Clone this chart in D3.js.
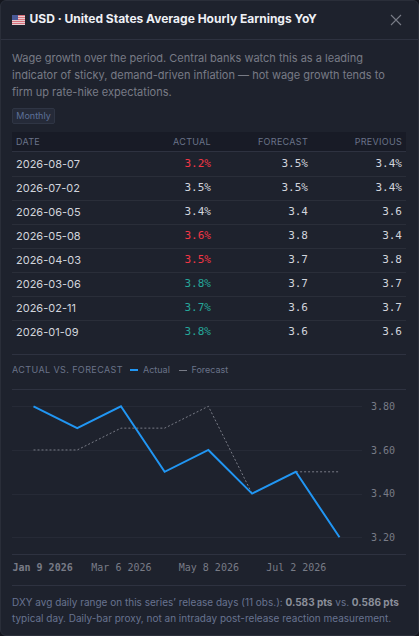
<!DOCTYPE html>
<html>
<head>
<meta charset="utf-8">
<script src="https://cdn.jsdelivr.net/npm/d3@7/dist/d3.min.js"></script>
<style>
html, body { margin: 0; padding: 0; background: #14161e; }
#panel { position: absolute; left: 0; top: 0; width: 417px; height: 634px; background: #1e222d; border: 1px solid #2a2e39; border-radius: 6px; overflow: hidden; font-family: Inter, sans-serif; }
.abs { position: absolute; white-space: nowrap; }
.rule { position: absolute; left: 11px; width: 394px; height: 1px; background: #2e3240; }
.mono { font-family: "DejaVu Sans Mono", monospace; }
#head { left: 0; top: 0; width: 417px; height: 38px; border-bottom: 1px solid #2e3240; }
#title { font-size: 12px; font-weight: 700; color: #eef0f5; line-height: 18px; }
.desc { font-size: 11px; color: #787b86; line-height: 17px; }
#tag { width: 41px; height: 14px; border: 1px solid #2f3544; border-radius: 2px; background: #252a38; color: #5d7199; font-size: 9px; line-height: 14px; text-align: center; }
#thead { left: 11px; top: 131px; width: 394px; height: 19px; background: #181b26; border-bottom: 1px solid #2e3240; }
.th { font-size: 9px; letter-spacing: .3px; color: #6a7389; line-height: 19px; }
.td { font-size: 11px; line-height: 16px; }
.date { font-size: 11px; line-height: 16px; color: #d1d4dc; }
.tr { position: absolute; left: 11px; width: 394px; height: 1px; background: #2a2e39; }
.leg { font-size: 9px; color: #6a7389; line-height: 14px; }
</style>
</head>
<body>
<div id="panel"></div>
<script>
const dates = ['2026-01-09','2026-02-11','2026-03-06','2026-04-03','2026-05-08','2026-06-05','2026-07-02','2026-08-07'];
const actual = [3.8,3.7,3.8,3.5,3.6,3.4,3.5,3.2];
const forecast = [3.6,3.6,3.7,3.7,3.8,3.4,3.5,3.5];
// table rows, newest first, as printed
const rowDates = ['2026-08-07','2026-07-02','2026-06-05','2026-05-08','2026-04-03','2026-03-06','2026-02-11','2026-01-09'];
const rowActual = ['3.2%','3.5%','3.4%','3.6%','3.5%','3.8%','3.7%','3.8%'];
const rowForecast = ['3.5%','3.5%','3.4','3.8','3.7','3.7','3.6','3.6'];
const rowPrevious = ['3.4%','3.4%','3.6','3.4','3.8','3.7','3.7','3.6'];
const rowColor = ['#f23645','#d1d4dc','#d1d4dc','#f23645','#f23645','#26a69a','#26a69a','#26a69a'];
const headers = ['DATE','ACTUAL','FORECAST','PREVIOUS'];
const yTicks = [3.2,3.4,3.6,3.8];
const xTickDates = ['2026-01-09','2026-03-06','2026-05-08','2026-07-02'];
const xTickLabels = ['Jan 9 2026','Mar 6 2026','May 8 2026','Jul 2 2026'];

const panel = d3.select('#panel');

function put(cls, text, left, top, right) {
  const el = panel.append('div').attr('class', 'abs ' + cls).text(text).style('top', top + 'px');
  if (right != null) el.style('right', right + 'px');
  else el.style('left', left + 'px');
  return el;
}

//HEADER
panel.append('div').attr('class', 'abs').attr('id', 'head');
const flag = panel.append('svg').attr('class', 'abs').style('left', '11px').style('top', '14px')
  .attr('width', 13).attr('height', 10);
d3.range(5).forEach(i => {
  flag.append('rect').attr('x', 0).attr('y', i * 2).attr('width', 13).attr('height', 1).attr('fill', '#d9707c');
  flag.append('rect').attr('x', 0).attr('y', i * 2 + 1).attr('width', 13).attr('height', 1).attr('fill', '#e6cfd2');
});
flag.append('rect').attr('width', 6).attr('height', 5).attr('fill', '#4a5a98');
put('', 'USD · United States Average Hourly Earnings YoY', 28.5, 9).attr('id', 'title');
const close = panel.append('svg').attr('class', 'abs').style('left', '389px').style('top', '13px')
  .attr('width', 12).attr('height', 12);
close.append('path').attr('d', 'M1 1L11 11M11 1L1 11').attr('stroke', '#787b86').attr('stroke-width', 1.1).attr('fill', 'none');

//DESCRIPTION
const descLines = ['Wage growth over the period. Central banks watch this as a leading',
  'indicator of sticky, demand-driven inflation — hot wage growth tends to',
  'firm up rate-hike expectations.'];
descLines.forEach((t, i) => put('desc', t, 11, 49 + i * 17));
put('', 'Monthly', 11, 107).attr('id', 'tag');

//TABLE
panel.append('div').attr('class', 'abs').attr('id', 'thead');
put('th', headers[0], 15, 131);
put('th', headers[1], 0, 131, 207);
put('th', headers[2], 0, 131, 110);
put('th', headers[3], 0, 131, 16);

rowDates.forEach((d, i) => {
  const top = 155 + i * 24;
  put('date', d, 15, top);
  put('td mono', rowActual[i], 0, top, 207).style('color', rowColor[i]);
  put('td mono', rowForecast[i], 0, top, 110).style('color', '#d1d4dc');
  put('td mono', rowPrevious[i], 0, top, 16).style('color', '#d1d4dc');
  if (i < 7) panel.append('div').attr('class', 'tr').style('top', (top + 20) + 'px');
});

panel.append('div').attr('class', 'rule').style('top', '353px');

//LEGEND
put('leg', 'ACTUAL VS. FORECAST', 11, 362).style('letter-spacing', '.4px');
panel.append('div').attr('class', 'abs').style('left', '129px').style('top', '368px').style('width', '8px').style('height', '2px').style('background', '#2196f3');
put('leg', 'Actual', 142, 362);
panel.append('div').attr('class', 'abs').style('left', '178px').style('top', '369px').style('width', '8px').style('height', '1px').style('background', '#787b86');
put('leg', 'Forecast', 190.5, 362);

//CHART
const margin = ({top: 389, left: 11}),
width = 394,
height = 165;

const svg = panel.append('svg')
  .attr('class', 'abs')
  .style('left', margin.left + 'px')
  .style('top', (margin.top - 1) + 'px')
  .attr('width', width + 20)
  .attr('height', height + 30);

const xScale = d3.scalePoint().domain(dates).range([21.5, 327.5]);
const yScale = d3.scaleLinear().domain([3.2, 3.8]).range([148.3, 17.3]);

svg.append('line').attr('x1', 0).attr('x2', width).attr('y1', .5).attr('y2', .5).attr('stroke', '#2e3240');
svg.append('line').attr('x1', 0).attr('x2', width).attr('y1', height + .5).attr('y2', height + .5).attr('stroke', '#2e3240');

const yAxis = svg.append('g')
  .attr('transform', 'translate(350,0)')
  .call(d3.axisRight(yScale).tickValues(yTicks).tickSize(0).tickPadding(9).tickFormat(d3.format('.2f')));
yAxis.select('.domain').remove();
yAxis.selectAll('text').attr('fill', '#787b86').attr('font-family', '"DejaVu Sans Mono", monospace').attr('font-size', 10);

svg.append('g').selectAll('line').data(yTicks).enter().append('line')
  .attr('x1', 0).attr('x2', 350)
  .attr('y1', d => Math.round(yScale(d)) + .5).attr('y2', d => Math.round(yScale(d)) + .5)
  .attr('stroke', '#262a36');

const line = d3.line().x((d, i) => xScale(dates[i])).y(d => yScale(d));

svg.append('path').datum(forecast).attr('d', line).attr('fill', 'none')
  .attr('stroke', '#787b86').attr('stroke-width', 1).attr('stroke-dasharray', '2 2');
svg.append('path').datum(actual).attr('d', line).attr('fill', 'none')
  .attr('stroke', '#2196f3').attr('stroke-width', 2).attr('stroke-linejoin', 'miter');

const xAxis = svg.append('g')
  .attr('transform', 'translate(0,' + (height + 4) + ')')
  .call(d3.axisBottom(xScale).tickValues(xTickDates).tickSize(0).tickPadding(6).tickFormat((d, i) => xTickLabels[i]));
xAxis.select('.domain').remove();
xAxis.selectAll('text').attr('fill', '#787b86').attr('font-family', '"DejaVu Sans Mono", monospace').attr('font-size', 10);
// first label sits flush against the left edge and is bold
xAxis.selectAll('text').filter((d, i) => i == 0).attr('text-anchor', 'start').attr('x', -21.5).attr('font-weight', 700);

panel.append('div').attr('class', 'rule').style('top', '584px');

//FOOTNOTE
const foot = panel.append('div').attr('class', 'abs').style('left', '11px').style('top', '593px')
  .style('font-size', '10px').style('line-height', '16px').style('color', '#687390');
foot.append('span').text('DXY avg daily range on this series\u2019 release days (11 obs.): ');
foot.append('b').text('0.583 pts').style('color', '#8b8f9a');
foot.append('span').text(' vs. ');
foot.append('b').text('0.586 pts').style('color', '#8b8f9a');
foot.append('br');
foot.append('span').text('typical day. Daily-bar proxy, not an intraday post-release reaction measurement.');
</script>
</body>
</html>
